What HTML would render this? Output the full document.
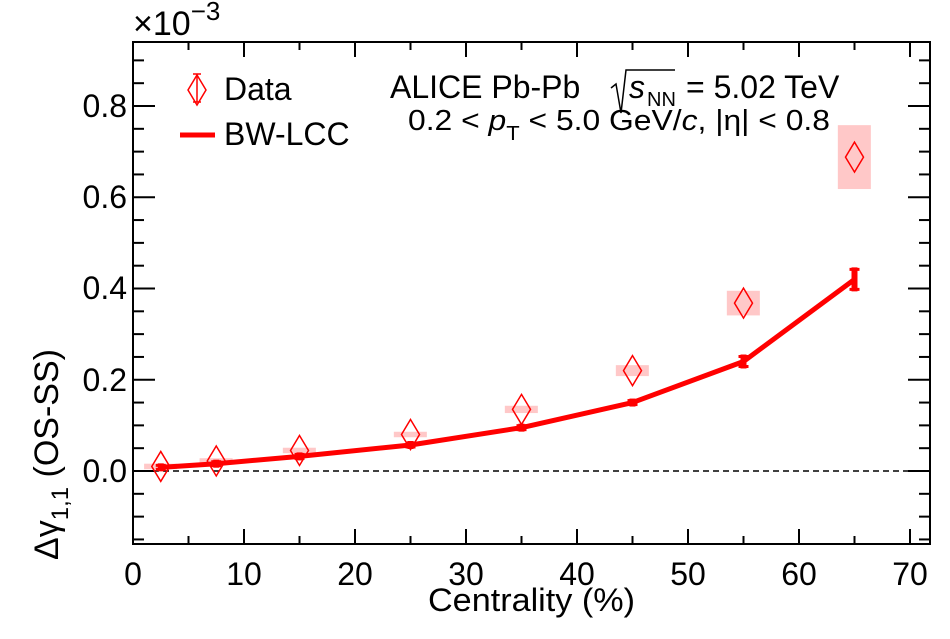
<!DOCTYPE html>
<html><head><style>body{margin:0;background:#fff}svg text{font-family:"Liberation Sans",sans-serif}</style></head><body>
<svg width="950" height="634" xmlns="http://www.w3.org/2000/svg">
<g id="boxes" fill="#ffc8c8"></g>
<rect x="133" y="42" width="797" height="502" fill="none" stroke="#000" stroke-width="2"/>
<g stroke="#000" stroke-width="2" id="ticks"></g>
<line x1="133" y1="471" x2="930" y2="471" stroke="#000" stroke-width="1.5" stroke-dasharray="6,4"/>
<g id="plot"></g>
<g font-size="32" text-anchor="end">
<text x="127" y="482">0.0</text><text x="127" y="391">0.2</text><text x="127" y="299">0.4</text><text x="127" y="208">0.6</text><text x="127" y="117">0.8</text>
</g>
<g font-size="32" text-anchor="middle">
<text x="133" y="585">0</text><text x="244" y="585">10</text><text x="355" y="585">20</text><text x="466" y="585">30</text><text x="577" y="585">40</text><text x="688" y="585">50</text><text x="799" y="585">60</text><text x="910" y="585">70</text>
</g>
<text x="428" y="611" font-size="32" textLength="207" lengthAdjust="spacingAndGlyphs">Centrality (%)</text>
<text x="133" y="35" font-size="34">×10<tspan dy="-15" font-size="26">−3</tspan></text>
<text transform="translate(58,560) rotate(-90)" font-size="34">Δγ<tspan dy="10" font-size="24">1,1</tspan><tspan dy="-10"> (OS-SS)</tspan></text>
<g stroke="red" fill="none" stroke-width="1.5">
<path d="M197 75 L206 90 L197 105 L188 90Z"/><line x1="197" y1="74" x2="197" y2="102"/><line x1="193" y1="74" x2="201" y2="74"/><line x1="193" y1="102" x2="201" y2="102"/>
</g>
<line x1="180" y1="135" x2="215" y2="135" stroke="red" stroke-width="5"/>
<text x="224" y="100" font-size="32">Data</text>
<text x="224" y="145" font-size="32">BW-LCC</text>
<text x="390" y="98" font-size="32">ALICE Pb-Pb</text>
<path d="M611 88 L616 84 L621 113 L626 70 L675 70" fill="none" stroke="#000" stroke-width="1.5"/>
<text x="629" y="98" font-size="32" font-style="italic">s</text>
<text x="647" y="106" font-size="20">NN</text>
<text x="686" y="98" font-size="32">= 5.02 TeV</text>
<text x="408" y="130" font-size="29" textLength="422" lengthAdjust="spacingAndGlyphs">0.2 &lt; <tspan font-style="italic">p</tspan><tspan dy="10" font-size="20">T</tspan><tspan dy="-10"> &lt; 5.0 GeV/</tspan><tspan font-style="italic">c</tspan>, |η| &lt; 0.8</text>
</svg>
<script>
const X=v=>133+v*11.1, Y=v=>471-v*456.25;
const ns="http://www.w3.org/2000/svg";
function el(p,t,a){const e=document.createElementNS(ns,t);for(const k in a)e.setAttribute(k,a[k]);p.appendChild(e);return e;}
const t=document.getElementById('ticks');
for(let i=0;i<=14;i++){const v=i*5,x=X(v);if(x>929)break;const L=(v%10==0)?15:8;el(t,'line',{x1:x,y1:544,x2:x,y2:544-L});el(t,'line',{x1:x,y1:42,x2:x,y2:42+L});}
for(let i=-3;i<=18;i++){const v=i*0.05,y=Y(v);if(y>543||y<43)continue;const L=(i%4==0)?22:11;el(t,'line',{x1:133,y1:y,x2:133+L,y2:y});el(t,'line',{x1:930,y1:y,x2:930-L,y2:y});}
const d=[[2.5,.010,.006],[7.5,.022,.006],[15,.045,.006],[25,.080,.006],[35,.135,.008],[45,.220,.012],[55,.368,.027],[65,.688,.07]];
const m=[[2.5,.008],[7.5,.016],[15,.032],[25,.057],[35,.095],[45,.150],[55,.240],[65,.420]];
const b=document.getElementById('boxes');
d.forEach(p=>{el(b,'rect',{x:X(p[0]-1.5),y:Y(p[1]+p[2]),width:33,height:Math.max(3,p[2]*2*456.25)});});
const pl=document.getElementById('plot');
el(pl,'polyline',{points:m.map(p=>X(p[0])+','+Y(p[1])).join(' '),fill:'none',stroke:'red','stroke-width':5,'stroke-linejoin':'round'});
m.forEach(p=>{const x=X(p[0]),y=Y(p[1]);const e=p[0]>60?10:(p[0]>50?5:2);el(pl,'rect',{x:x-3,y:y-e-2,width:6,height:2*e+4,fill:'red'});el(pl,'line',{x1:x-5,y1:y-e,x2:x+5,y2:y-e,stroke:'red','stroke-width':3});el(pl,'line',{x1:x-5,y1:y+e,x2:x+5,y2:y+e,stroke:'red','stroke-width':3});});
d.forEach(p=>{const x=X(p[0]),y=Y(p[1]);el(pl,'path',{d:`M${x} ${y-15}L${x+9} ${y}L${x} ${y+15}L${x-9} ${y}Z`,fill:'none',stroke:'red','stroke-width':1.5});});
</script>
</body></html>
